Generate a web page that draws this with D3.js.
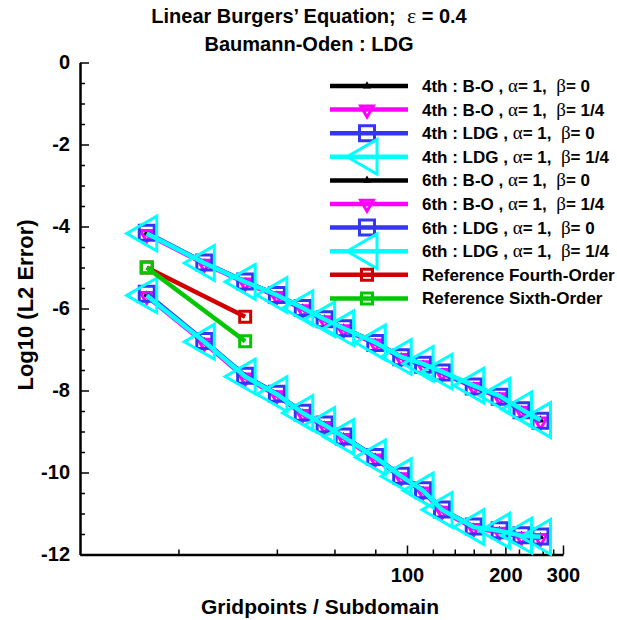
<!DOCTYPE html>
<html><head><meta charset="utf-8">
<script src="https://cdn.jsdelivr.net/npm/d3@7"></script>
<style>
body{margin:0;background:#fff;}
text{font-family:"Liberation Sans",Arial,Helvetica,sans-serif;font-weight:bold;fill:#000;white-space:pre;}
.gk{font-family:"Liberation Serif","Times New Roman",serif;font-weight:normal;}
</style></head>
<body>
<svg id="chart" width="617" height="620"></svg>
<script>
// ---------- data ----------
const gridpoints = [16, 24, 32, 40, 48, 56, 64, 80, 96, 112, 128, 160, 192, 224, 256];

const bo4_b0   = [-4.17, -4.89, -5.35, -5.67, -5.99, -6.26, -6.48, -6.83, -7.18, -7.36, -7.55, -7.89, -8.14, -8.47, -8.72];
const bo4_b14  = [-4.19, -4.91, -5.37, -5.70, -6.02, -6.29, -6.51, -6.86, -7.21, -7.39, -7.58, -7.92, -8.17, -8.50, -8.76];
const ldg4_b0  = [-4.15, -4.88, -5.34, -5.67, -5.99, -6.26, -6.48, -6.84, -7.19, -7.37, -7.56, -7.90, -8.15, -8.48, -8.74];
const ldg4_b14 = [-4.17, -4.89, -5.35, -5.67, -5.99, -6.26, -6.48, -6.83, -7.18, -7.35, -7.54, -7.88, -8.13, -8.46, -8.72];

const bo6_b0   = [-5.67, -6.81, -7.66, -8.09, -8.55, -8.84, -9.13, -9.63, -10.09, -10.44, -10.91, -11.33, -11.42, -11.54, -11.57];
const bo6_b14  = [-5.70, -6.84, -7.69, -8.12, -8.58, -8.87, -9.16, -9.66, -10.12, -10.47, -10.94, -11.36, -11.45, -11.57, -11.60];
const ldg6_b0  = [-5.64, -6.79, -7.64, -8.08, -8.54, -8.83, -9.12, -9.62, -10.08, -10.43, -10.90, -11.32, -11.41, -11.53, -11.56];
const ldg6_b14 = [-5.68, -6.81, -7.66, -8.09, -8.55, -8.84, -9.13, -9.63, -10.09, -10.44, -10.91, -11.33, -11.42, -11.54, -11.57];

const refGrid = [16, 32];
const ref4 = [-5.0, -6.2];
const ref6 = [-5.0, -6.8];

const xMajorTicks = [100, 200, 300];
const xMinorTicks = [20, 40, 60, 80, 120, 140, 160, 180, 220, 240, 260, 280];
const yMajorTicks = [0, -2, -4, -6, -8, -10, -12];
const yMinorTicks = [-0.5,-1,-1.5,-2.5,-3,-3.5,-4.5,-5,-5.5,-6.5,-7,-7.5,-8.5,-9,-9.5,-10.5,-11,-11.5];

const seriesNames = [
  ["4th : B-O , ", "α", "= 1,  ", "β", "= 0"],
  ["4th : B-O , ", "α", "= 1,  ", "β", "= 1/4"],
  ["4th : LDG , ", "α", "= 1,  ", "β", "= 0"],
  ["4th : LDG , ", "α", "= 1,  ", "β", "= 1/4"],
  ["6th : B-O , ", "α", "= 1,  ", "β", "= 0"],
  ["6th : B-O , ", "α", "= 1,  ", "β", "= 1/4"],
  ["6th : LDG , ", "α", "= 1,  ", "β", "= 0"],
  ["6th : LDG , ", "α", "= 1,  ", "β", "= 1/4"],
  ["Reference Fourth-Order"],
  ["Reference Sixth-Order"]
];

// ---------- styles ----------
const styles = {
  black:   {color:"#000000", shape:"up"},
  magenta: {color:"#ff00ff", shape:"down"},
  blue:    {color:"#3535f5", shape:"square"},
  cyan:    {color:"#00ffff", shape:"left"},
  red:     {color:"#d00000", shape:"smallsquare"},
  green:   {color:"#00c800", shape:"smallsquare"}
};
const series = [
  {x:gridpoints, y:bo4_b0,   s:"black"},
  {x:gridpoints, y:bo4_b14,  s:"magenta"},
  {x:gridpoints, y:ldg4_b0,  s:"blue"},
  {x:gridpoints, y:ldg4_b14, s:"cyan"},
  {x:gridpoints, y:bo6_b0,   s:"black"},
  {x:gridpoints, y:bo6_b14,  s:"magenta"},
  {x:gridpoints, y:ldg6_b0,  s:"blue"},
  {x:gridpoints, y:ldg6_b14, s:"cyan"},
  {x:refGrid, y:ref4, s:"red"},
  {x:refGrid, y:ref6, s:"green"}
];

const svg = d3.select("#chart");
const x = d3.scaleLog().domain([10, 300]).range([80, 563]);
const y = d3.scaleLinear().domain([-12, 0]).range([554.5, 62.5]);

function marker(g, shape, color){
  if (shape === "up") {
    g.append("path").attr("d", d3.symbol(d3.symbolTriangle, 30)()).attr("fill", color);
  } else if (shape === "down") {
    g.append("path").attr("d", d3.symbol(d3.symbolTriangle, 70)()).attr("transform","rotate(180)")
      .attr("fill","none").attr("stroke",color).attr("stroke-width",3);
  } else if (shape === "square") {
    g.append("path").attr("d", d3.symbol(d3.symbolSquare, 225)())
      .attr("fill","none").attr("stroke",color).attr("stroke-width",3);
  } else if (shape === "left") {
    g.append("path").attr("d", d3.symbol(d3.symbolTriangle, 520)()).attr("transform","rotate(-90)")
      .attr("fill","none").attr("stroke",color).attr("stroke-width",3);
  } else if (shape === "smallsquare") {
    g.append("path").attr("d", d3.symbol(d3.symbolSquare, 121)())
      .attr("fill","none").attr("stroke",color).attr("stroke-width",3);
  }
}

// ---------- axes ----------
const xAxisG = svg.append("g").attr("transform", `translate(0,${y(-12)})`);
xAxisG.call(d3.axisBottom(x).tickValues(xMinorTicks).tickSize(-5).tickFormat(""))
  .call(g => g.select(".domain").remove());
const xMaj = svg.append("g").attr("transform", `translate(0,${y(-12)})`)
  .call(d3.axisBottom(x).tickValues(xMajorTicks).tickSize(-9).tickSizeOuter(0).tickPadding(13).tickFormat(d => String(d)));
xMaj.select(".domain").attr("stroke-width", 2.5);
xMaj.selectAll("text").attr("font-size", 20);

const yMin = svg.append("g").attr("transform", `translate(${x(10)},0)`)
  .call(d3.axisLeft(y).tickValues(yMinorTicks).tickSize(-5).tickFormat(""));
yMin.select(".domain").remove();
const yMaj = svg.append("g").attr("transform", `translate(${x(10)},0)`)
  .call(d3.axisLeft(y).tickValues(yMajorTicks).tickSize(-9).tickSizeOuter(0).tickPadding(10).tickFormat(d => String(d)));
yMaj.select(".domain").attr("stroke-width", 2.5);
yMaj.selectAll("text").attr("font-size", 20);
svg.selectAll(".tick line").attr("stroke-width", 1.5);

// ---------- series ----------
const line = d3.line().x(d => x(d[0])).y(d => y(d[1]));
series.forEach(se => {
  const st = styles[se.s];
  const pts = se.x.map((v,i) => [v, se.y[i]]);
  svg.append("path").datum(pts).attr("d", line).attr("fill","none")
    .attr("stroke", st.color).attr("stroke-width", 4.5).attr("stroke-linejoin","round");
  pts.forEach(p => {
    const g = svg.append("g").attr("transform", `translate(${x(p[0])},${y(p[1])})`);
    marker(g, st.shape, st.color);
  });
});

// ---------- legend ----------
const leg = svg.append("g");
series.forEach((se, i) => {
  const st = styles[se.s];
  const ly = 86 + i * 23.6;
  leg.append("line").attr("x1", 330).attr("x2", 408).attr("y1", ly).attr("y2", ly)
    .attr("stroke", st.color).attr("stroke-width", 4.5);
  const g = leg.append("g").attr("transform", `translate(367,${ly})`);
  marker(g, st.shape, st.color);
  const t = leg.append("text").attr("x", 422).attr("y", ly + 6).attr("font-size", 17);
  seriesNames[i].forEach((part, k) => {
    const ts = t.append("tspan").text(part);
    if (k === 1 || k === 3) ts.attr("class", "gk").attr("font-size", 19);
  });
});

// ---------- titles ----------
const t1 = svg.append("text").attr("x", 309).attr("y", 23).attr("text-anchor","middle").attr("font-size", 20);
t1.append("tspan").text("Linear Burgers’ Equation;  ");
t1.append("tspan").attr("class","gk").attr("font-size", 22).text("ε");
t1.append("tspan").text(" = 0.4");
svg.append("text").attr("x", 309).attr("y", 51).attr("text-anchor","middle").attr("font-size", 20)
  .text("Baumann-Oden : LDG");

svg.append("text").attr("x", 320).attr("y", 614).attr("text-anchor","middle").attr("font-size", 21)
  .text("Gridpoints / Subdomain");
svg.append("text").attr("transform", "translate(33,305) rotate(-90)").attr("text-anchor","middle")
  .attr("font-size", 22).text("Log10 (L2 Error)");
</script>
</body></html>
